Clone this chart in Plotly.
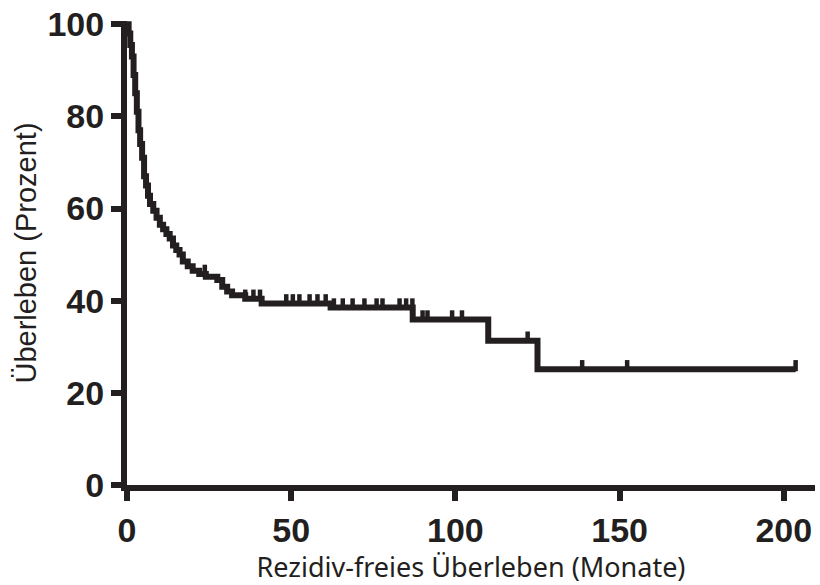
import plotly.graph_objects as go
import numpy as np

# Kaplan-Meier step curve (months, percent surviving)
event_times = [0, 0.5, 1.0, 1.5, 2.0, 2.5, 3.0, 3.5, 4.0, 4.6, 5.2, 5.8, 6.4, 7.0, 8.0,
               9.0, 10.0, 11.0, 12.0, 13.0, 14.0, 15.0, 16.0, 17.0, 18.5, 20.0, 22.0,
               24.0, 27.5, 29.0, 30.5, 32.0, 36.0, 41.0, 62.0, 87.0, 110.0, 125.0, 203.6]
survival = [100, 98, 95.5, 93, 89, 85, 81, 77, 74, 71, 67, 65, 62.8, 61, 59.5,
            58, 56.5, 55.5, 54.5, 53.5, 52, 51, 50, 48.5, 47.5, 46.5, 45.8,
            45.2, 44.5, 43, 42, 41.2, 40.4, 39.4, 38.5, 35.9, 31.3, 25.1, 25.1]

# censored observations (months)
censor_times = [23.7, 36, 38.5, 40.5, 48.5, 50.5, 52.5, 55.6, 58, 60.5, 63, 65.7,
                68.7, 72.3, 76, 77.8, 83, 85, 86.9, 90, 91.5, 99, 102, 122,
                138.6, 152.3, 203.6]

x_ticks = [0, 50, 100, 150, 200]
y_ticks = [0, 20, 40, 60, 80, 100]

x_title = "Rezidiv-freies Überleben (Monate)"
y_title = "Überleben (Prozent)"

ink = "#231f20"

def surv_at(t):
    s = survival[0]
    for et, sv in zip(event_times, survival):
        if et <= t:
            s = sv
    return s

censor_y = [surv_at(t) + 0.8 for t in censor_times]

fig = go.Figure()
fig.add_trace(go.Scatter(
    x=event_times, y=survival, mode="lines",
    line=dict(shape="hv", color=ink, width=6),
    cliponaxis=False, showlegend=False, hoverinfo="skip"))
fig.add_trace(go.Scatter(
    x=censor_times, y=censor_y, mode="markers",
    marker=dict(symbol="line-ns", size=8, line=dict(color=ink, width=4.5)),
    cliponaxis=False, showlegend=False, hoverinfo="skip"))

tickfont = dict(family="Liberation Sans, Arial, sans-serif", size=34, color=ink)

fig.update_layout(
    width=820, height=585,
    margin=dict(l=127, r=5, t=17, b=100),
    plot_bgcolor="white", paper_bgcolor="white",
    font=dict(family="Liberation Sans, Arial, sans-serif", color=ink),
)
fig.update_xaxes(
    range=[0, 209.5], tickvals=x_ticks, ticktext=[f"<b>{v}</b>" for v in x_ticks],
    tickfont=tickfont, ticks="outside", ticklen=10, tickwidth=6, tickcolor=ink,
    showline=True, linewidth=6, linecolor=ink, showgrid=False, zeroline=False,
    title=dict(text=x_title, font=dict(family="Noto Sans, sans-serif", size=27, color=ink), standoff=6),
)
fig.update_yaxes(
    range=[0, 100.7], tickvals=y_ticks, ticktext=[f"<b>{v}</b>" for v in y_ticks],
    tickfont=tickfont, ticks="outside", ticklen=10, tickwidth=6, tickcolor=ink,
    showline=True, linewidth=6, linecolor=ink, showgrid=False, zeroline=False,
    title=dict(text=y_title, font=dict(family="Liberation Sans, Arial, sans-serif", size=29, color=ink), standoff=4),
)

fig.write_html("out.html")
